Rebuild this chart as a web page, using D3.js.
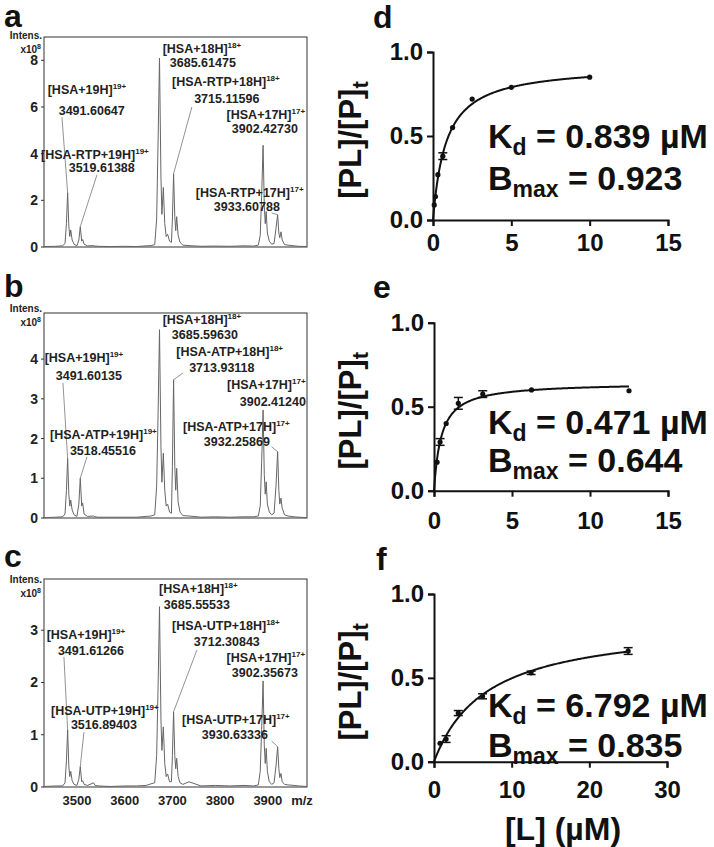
<!DOCTYPE html>
<html><head><meta charset="utf-8">
<script src="https://cdn.jsdelivr.net/npm/d3@7"></script>
<style>
body{margin:0;background:#fff}
svg{display:block}
text{font-family:"Liberation Sans",Arial,Helvetica,sans-serif;font-weight:bold}
</style>
</head><body>
<svg id="chart" width="714" height="847"></svg>
<script>
// ---------------- DATA ----------------
// Shared m/z grid for the three mass spectra
const specMz = [3431,3455,3470,3475,3478,3480.5,3483,3485,3487,3490,3494,3500,3504,3507,3510,3512,3515,3522,3535,3538,
  3545,3570,3600,3625,3645,3655,3663,3667,3670,3673,3676,3678,3681,3684,3687,3690,3694,3698,3700,3702.5,
  3705,3707,3709,3712,3716,3722,3735,3760,3790,3820,3850,3870,3880,3884,3887,3890,3892.5,3894.5,3896.5,3899,
  3903,3908,3913,3917,3920.5,3923,3925,3927.5,3930,3935,3942,3955,3965,3982];
// Intensities (x10^8) (RTP)
const specA = [0.02,0.03,0.05,0.15,1.0,2.33,0.9,0.45,0.73,0.3,0.12,0.05,0.3,0.87,0.25,0.32,0.12,0.05,0.06,0.04,
  0.03,0.02,0.03,0.02,0.05,0.06,0.1,1.2,4.5,8.1,3.0,1.4,2.55,1.0,0.45,0.55,0.25,0.2,1.2,3.14,
  1.3,0.7,1.3,0.5,0.2,0.08,0.06,0.03,0.04,0.03,0.05,0.04,0.08,0.5,2.2,4.36,1.8,1.0,1.52,0.6,
  0.25,0.12,0.15,0.8,1.38,0.6,0.4,0.65,0.3,0.1,0.08,0.05,0.03,0.02];
// panel b (ATP)
const specB = [0.01,0.02,0.03,0.1,0.7,1.5,0.6,0.3,0.45,0.2,0.08,0.04,0.35,1.0,0.3,0.38,0.1,0.04,0.05,0.03,
  0.02,0.02,0.02,0.02,0.04,0.05,0.08,0.8,2.6,4.74,1.8,0.9,1.63,0.7,0.3,0.35,0.15,0.12,1.3,3.48,
  1.3,0.7,1.25,0.4,0.15,0.06,0.05,0.02,0.03,0.02,0.03,0.03,0.05,0.3,1.4,2.72,1.1,0.6,0.91,0.35,
  0.15,0.08,0.12,0.8,1.67,0.7,0.35,0.5,0.25,0.08,0.05,0.03,0.02,0.01];
// panel c (UTP)
const specC = [0.01,0.02,0.02,0.08,0.5,1.09,0.4,0.2,0.3,0.12,0.05,0.03,0.15,0.39,0.1,0.12,0.05,0.03,0.08,0.03,
  0.02,0.01,0.02,0.02,0.03,0.06,0.08,0.6,1.9,3.45,1.3,0.7,1.15,0.45,0.2,0.25,0.1,0.1,0.6,1.44,
  0.6,0.35,0.55,0.2,0.08,0.05,0.1,0.02,0.03,0.02,0.03,0.02,0.04,0.3,1.1,2.03,0.8,0.45,0.74,0.3,
  0.1,0.05,0.08,0.4,0.77,0.35,0.18,0.26,0.1,0.05,0.04,0.03,0.02,0.01];
const peakIdx = [5,13,29,39,55,64];

const mzTicks = [3500,3600,3700,3800,3900];
const yTicksA = [0,2,4,6,8], yTicksB = [0,1,2,3,4], yTicksC = [0,1,2,3];
const ligands = ["RTP","ATP","UTP"];
const speciesNames = ["HSA+19H","HSA-{L}+19H","HSA+18H","HSA-{L}+18H","HSA+17H","HSA-{L}+17H"];
const charges = ["19+","19+","18+","18+","17+","17+"];
const massA = ["3491.60647","3519.61388","3685.61475","3715.11596","3902.42730","3933.60788"];
const massB = ["3491.60135","3518.45516","3685.59630","3713.93118","3902.41240","3932.25869"];
const massC = ["3491.61266","3516.89403","3685.55533","3712.30843","3902.35673","3930.63336"];

// Binding data
const dL = [0.078,0.156,0.3125,0.625,1.25,2.5,5,10];
const dV = [0.09,0.14,0.27,0.38,0.55,0.72,0.79,0.85];
const dE = [0,0,0,0.02,0,0,0,0];
const eL = [0.195,0.39,0.78,1.56,3.125,6.25,12.5];
const eV = [0.17,0.29,0.40,0.52,0.575,0.60,0.595];
const eE = [0,0.02,0,0.035,0.02,0,0];
const fL = [0.78,1.56,3.125,6.25,12.5,25];
const fV = [0.11,0.135,0.29,0.39,0.53,0.66];
const fE = [0,0.02,0.015,0.015,0.01,0.02];
const kdVals = [0.839,0.471,6.792];
const bmaxVals = [0.923,0.644,0.835];
const xTicksD = [0,5,10,15], xTicksE = [0,5,10,15], xTicksF = [0,10,20,30];
const yTicksR = [0,0.5,1.0];

// ---------------- LAYOUT ----------------
// annotation anchors in data coords: [line1 mz, line1 I, line2 mz, line2 I, leader-start mz, leader-start I]
const annPosA = [[3521,6.56,3531,5.66,3468.6,5.57],[3537.7,3.77,3552,3.21,3541.9,3.09],[3761.8,8.32,3763.8,7.72,null,null],
  [3812,6.9,3814,6.17,3740.8,6.0],[3895.8,5.49,3893.7,4.89,null,null],[3862,2.14,3856,1.54,3908,1.46]];
const annPosB = [[3514.7,3.93,3525,3.48,3470.7,3.4],[3555.5,1.99,3554.4,1.59,3521,1.54],[3761.8,4.89,3768,4.51,null,null],
  [3820,4.08,3803.6,3.68,3722,3.65],[3896.8,3.25,3910.4,2.82,null,null],[3834,2.19,3835,1.81,3908,1.79]];
const annPosC = [[3518.8,2.83,3529.3,2.52,3472.8,2.49],[3558.6,1.38,3556.5,1.11,3514.7,1.05],[3754.4,3.71,3751.3,3.40,null,null],
  [3812,3.0,3814,2.70,3751.3,2.62],[3895.8,2.39,3893.7,2.10,null,null],[3833,1.20,3830.8,0.92,3908,0.88]];

const svg = d3.select("#chart");
const xL = d3.scaleLinear().domain([3431,3982]).range([44,307]);

const leftPanels = [
  {letter:"a", ly:27, spec:specA, yMax:9.0, top:37, bottom:247, ticks:yTicksA, mass:massA, ann:annPosA, lig:ligands[0], iy:39},
  {letter:"b", ly:297, spec:specB, yMax:5.16, top:313, bottom:518, ticks:yTicksB, mass:massB, ann:annPosB, lig:ligands[1], iy:312},
  {letter:"c", ly:567, spec:specC, yMax:3.98, top:579, bottom:787, ticks:yTicksC, mass:massC, ann:annPosC, lig:ligands[2], iy:583}
];

leftPanels.forEach((p, pi) => {
  const g = svg.append("g");
  const y = d3.scaleLinear().domain([0, p.yMax]).range([p.bottom, p.top]);
  g.append("text").attr("x",4).attr("y",p.ly).attr("font-size",32).attr("fill","#111").text(p.letter);
  // box
  g.append("rect").attr("x",xL.range()[0]).attr("y",p.top).attr("width",xL.range()[1]-xL.range()[0])
    .attr("height",p.bottom-p.top).attr("fill","none").attr("stroke","#333").attr("stroke-width",1);
  // intensity label
  g.append("text").attr("x",42).attr("y",p.iy).attr("text-anchor","end").attr("font-size",10).attr("fill","#222").text("Intens.");
  const xt = g.append("text").attr("x",41).attr("y",p.iy+14).attr("text-anchor","end").attr("font-size",10).attr("fill","#222");
  xt.append("tspan").text("x10");
  xt.append("tspan").attr("font-size",7).attr("dy",-4).text("8");
  // y ticks
  p.ticks.forEach(t => {
    g.append("line").attr("x1",41).attr("x2",44).attr("y1",y(t)).attr("y2",y(t)).attr("stroke","#333");
    g.append("text").attr("x",38).attr("y",y(t)+5).attr("text-anchor","end").attr("font-size",14).attr("fill","#222").text(t);
  });
  // spectrum
  const clipId = "clip"+pi;
  svg.append("clipPath").attr("id",clipId).append("rect").attr("x",44).attr("y",p.top).attr("width",263).attr("height",p.bottom-p.top);
  const pts = specMz.map((m,i)=>[m,p.spec[i]]);
  g.append("path").attr("clip-path",`url(#${clipId})`).attr("d", d3.line().x(d=>xL(d[0])).y(d=>y(d[1]))(pts))
    .attr("fill","none").attr("stroke","#666").attr("stroke-width",1);
  // annotations
  p.ann.forEach((a,i) => {
    const name = "[" + speciesNames[i].replace("{L}", p.lig) + "]";
    const t1 = g.append("text").attr("x",xL(a[0])).attr("y",y(a[1])).attr("text-anchor","middle").attr("font-size",12.5).attr("fill","#222");
    t1.append("tspan").text(name);
    t1.append("tspan").attr("font-size",8).attr("dy",-5).text(charges[i]);
    g.append("text").attr("x",xL(a[2])).attr("y",y(a[3])).attr("text-anchor","middle").attr("font-size",12.5).attr("fill","#222").text(p.mass[i]);
    if (a[4] !== null) {
      const k = peakIdx[i];
      g.append("line").attr("x1",xL(a[4])).attr("y1",y(a[5])).attr("x2",xL(specMz[k])).attr("y2",y(p.spec[k]))
        .attr("stroke","#777").attr("stroke-width",0.8);
    }
  });
  if (pi === 2) {
    mzTicks.forEach(t => {
      g.append("text").attr("x",xL(t)).attr("y",805).attr("text-anchor","middle").attr("font-size",13).attr("fill","#222").text(t);
    });
    g.append("text").attr("x",302).attr("y",805).attr("text-anchor","middle").attr("font-size",13).attr("fill","#222").text("m/z");
  }
});

// ---------------- RIGHT PANELS ----------------
const rightPanels = [
  {letter:"d", lx:373, ly:28, L:dL, V:dV, E:dE, xMax:15, xt:xTicksD, x0:433, x1:668, top:52, bottom:220, pad:8, kb:148, bb:190},
  {letter:"e", lx:373, ly:298, L:eL, V:eV, E:eE, xMax:15, xt:xTicksE, x0:434, x1:668, top:322.7, bottom:490.7, pad:15, kb:434, bb:472},
  {letter:"f", lx:376, ly:570, L:fL, V:fV, E:fE, xMax:30, xt:xTicksF, x0:434, x1:667, top:594, bottom:761.7, pad:13, kb:717, bb:757}
];

rightPanels.forEach((p, pi) => {
  const g = svg.append("g");
  const x = d3.scaleLinear().domain([0,p.xMax]).range([p.x0,p.x1]);
  const y = d3.scaleLinear().domain([0,1]).range([p.bottom,p.top]);
  g.append("text").attr("x",p.lx).attr("y",p.ly).attr("font-size",32).attr("fill","#111").text(p.letter);
  const ax = g.append("g").attr("transform",`translate(0,${p.bottom})`)
    .call(d3.axisBottom(x).tickValues(p.xt).tickSize(6).tickPadding(p.pad).tickFormat(d3.format("d")));
  const ay = g.append("g").attr("transform",`translate(${p.x0},0)`)
    .call(d3.axisLeft(y).tickValues(yTicksR).tickSize(6).tickPadding(4).tickFormat(d3.format(".1f")));
  [ax,ay].forEach(a => {
    a.select(".domain").attr("stroke","#111").attr("stroke-width",2);
    a.selectAll(".tick line").attr("stroke","#111").attr("stroke-width",2);
    a.selectAll(".tick text").attr("font-size",24).attr("fill","#111")
      .style("font-family",'"Liberation Sans",Arial,Helvetica,sans-serif').style("font-weight","bold");
  });
  // fitted curve from displayed Kd, Bmax
  const kd = kdVals[pi], bm = bmaxVals[pi], lmax = d3.max(p.L);
  const curve = d3.range(0, 201).map(i => { const l = lmax*i/200; return [l, bm*l/(kd+l)]; });
  g.append("path").attr("d", d3.line().x(d=>x(d[0])).y(d=>y(d[1])).curve(d3.curveLinear)(curve))
    .attr("fill","none").attr("stroke","#111").attr("stroke-width",2);
  // error bars
  p.L.forEach((l,i) => {
    const e = p.E[i]; if (!e) return;
    const cx = x(l);
    g.append("line").attr("x1",cx).attr("x2",cx).attr("y1",y(p.V[i]-e)).attr("y2",y(p.V[i]+e)).attr("stroke","#111").attr("stroke-width",1.5);
    [p.V[i]-e,p.V[i]+e].forEach(v => g.append("line").attr("x1",cx-4.5).attr("x2",cx+4.5).attr("y1",y(v)).attr("y2",y(v)).attr("stroke","#111").attr("stroke-width",1.5));
  });
  // points
  g.selectAll("circle.pt").data(p.L.map((l,i)=>[l,p.V[i]])).enter().append("circle")
    .attr("cx",d=>x(d[0])).attr("cy",d=>y(d[1])).attr("r",2.6).attr("fill","#111");
  // y label
  const yl = g.append("text").attr("transform",`translate(361,${(p.top+p.bottom)/2+4}) rotate(-90)`)
    .attr("text-anchor","middle").attr("font-size",31).attr("fill","#111");
  yl.append("tspan").text("[PL]/[P]");
  yl.append("tspan").attr("font-size",22).attr("dy",7).text("t");
  // Kd / Bmax text
  const kt = g.append("text").attr("x",488).attr("y",p.kb).attr("font-size",34).attr("fill","#111");
  kt.append("tspan").text("K");
  kt.append("tspan").attr("font-size",23).attr("dy",7).text("d");
  kt.append("tspan").attr("dy",-7).text(" = " + kd.toFixed(3) + " \u00B5M");
  const bt = g.append("text").attr("x",488).attr("y",p.bb).attr("font-size",34).attr("fill","#111");
  bt.append("tspan").text("B");
  bt.append("tspan").attr("font-size",23).attr("dy",7).text("max");
  bt.append("tspan").attr("dy",-7).text(" = " + bm.toFixed(3));
});

svg.append("text").attr("x",563).attr("y",840).attr("text-anchor","middle").attr("font-size",32).attr("fill","#111").text("[L] (\u00B5M)");
</script>
</body></html>
